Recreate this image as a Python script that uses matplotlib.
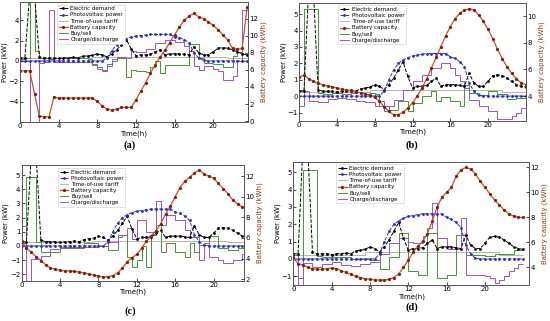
import numpy as np
import matplotlib.pyplot as plt

# time axis, half-hour steps
t = np.arange(0, 24.5, 0.5)

demand = [0.3, 0.3, 6.5, 6.5, 0.4, 0.3, 0.3, 0.3,
          0.25, 0.3, 0.3, 0.35, 0.3, 0.45, 0.5, 0.55,
          0.7, 0.6, 0.4, 0.7, 1.1, 1.6, 2.1, 1.2,
          0.5, 0.6, 0.6, 0.65, 0.9, 1.1, 0.6, 0.7,
          0.7, 0.7, 0.65, 0.6, 1.4, 0.8, 0.6, 0.6,
          0.9, 1.25, 1.3, 1.25, 1.1, 0.9, 0.7, 0.6,
          0.55]
pv = [0, 0, 0, 0, 0, 0, 0, 0,
      0, 0, 0, 0, 0, 0, 0, 0,
      0, 0, 0.3, 1.0, 1.6, 2.0, 2.2, 2.35,
      2.45, 2.5, 2.55, 2.6, 2.6, 2.6, 2.6, 2.6,
      2.4, 2.3, 2.1, 1.8, 0.8, 0.3, 0.05, 0,
      0, 0, 0, 0, 0, 0, 0, 0,
      0]
tariff = [0.25, 0.25, 0.25, 0.25, 0.25, 0.25, 0.25, 0.25,
          0.25, 0.25, 0.25, 0.25, 0.25, 0.25, 0.25, 0.38,
          0.38, 0.38, 0.38, 0.38, 0.38, 0.38, 0.38, 0.38,
          0.38, 0.38, 0.38, 0.38, 0.38, 0.38, 0.38, 0.38,
          0.38, 0.38, 0.38, 0.38, 0.38, 0.38, 0.38, 0.38,
          0.38, 0.38, 0.38, 0.25, 0.25, 0.25, 0.25, 0.25]

# (a)
bat_a = [5.9, 5.9, 5.9, 3.2, 0.6, 0.5, 0.5, 2.8,
         2.7, 2.7, 2.7, 2.7, 2.7, 2.7, 2.7, 2.7,
         2.3, 1.8, 1.4, 1.3, 1.4, 1.6, 1.6, 1.6,
         2.5, 3.5, 4.5, 5.6, 6.6, 7.5, 8.3, 9.2,
         10.1, 11.0, 11.8, 12.3, 12.6, 12.2, 12.0, 11.6,
         11.2, 10.7, 10.1, 9.5, 8.5, 8.4, 8.5, 13.3,
         13.3]
buy_a = [0.2, 0.3, 6.5, 1.0, 0.3, 0.3, 0.2, 0.3,
         0.3, 0.3, 0.3, 0.3, 0.3, 0.3, 0.2, -0.3,
         -0.6, -0.9, -0.3, 0.0, 0.3, 0.3, -1.6, -0.9,
         -1.0, -1.0, -1.1, -0.6, 0.0, -1.2, -0.4, -0.4,
         -0.4, -0.4, -0.4, 1.7, 1.7, 0.3, -0.2, -0.2,
         -0.3, -0.3, -0.6, -0.6, 0.5, 0.9, 0.0, 0.0]
chg_a = [0.0, 0.0, -6.5, -6.5, -0.2, -0.1, 5.0, -0.1,
         -0.1, -0.1, -0.1, -0.1, -0.1, -0.1, -0.1, -0.4,
         -0.8, -1.0, -0.5, 0.2, 0.4, 0.4, 0.3, 1.0,
         0.9, 0.9, 1.2, 1.2, 1.8, 1.8, 2.1, 2.1,
         1.9, 1.9, 1.5, 1.0, -0.5, -0.9, -0.5, -0.5,
         -0.8, -1.0, -1.9, -1.9, -1.5, 0.0, 5.0, 5.0]

# (b)
bat_b = [5.45, 5.55, 5.3, 5.1, 4.95, 4.85, 4.75, 4.7,
         4.6, 4.5, 4.45, 4.4, 4.3, 4.25, 4.15, 4.05,
         3.9, 3.6, 3.2, 2.85, 2.6, 2.6, 2.8, 3.1,
         3.5, 4.0, 4.6, 5.3, 6.1, 6.9, 7.7, 8.5,
         9.2, 9.8, 10.2, 10.45, 10.55, 10.45, 10.1, 9.6,
         9.0, 8.3, 7.5, 6.8, 6.2, 5.7, 5.3, 5.0,
         4.85]
buy_b = [0.35, 5.3, 5.3, 5.3, 0.2, 0.15, 0.15, 0.2,
         0.2, 0.15, 0.1, 0.2, 0.25, 0.2, 0.15, 0.2,
         0.1, -0.6, -0.6, -0.85, -0.85, -0.3, -0.3, -0.9,
         -0.4, -0.4, 0.0, 0.0, 0.3, -0.3, -0.05, -0.05,
         -0.3, -0.3, -0.6, 0.7, 0.2, 0.2, 0.05, 0.05,
         0.3, 0.3, 0.1, 0.1, -0.15, -0.15, -0.1, -0.1]
chg_b = [-0.6, 0.3, -0.3, -0.3, -0.35, -0.35, -0.2, -0.2,
         -0.1, -0.1, -0.2, -0.2, -0.3, -0.3, -0.35, -0.35,
         -0.6, -0.3, -0.9, -0.6, -0.25, -0.25, 0.4, 0.4,
         0.9, 0.9, 1.3, 1.3, 1.7, 1.7, 2.0, 2.0,
         1.7, 1.3, 0.9, 0.5, -0.25, -0.25, -0.6, -0.6,
         -0.9, -0.9, -1.4, -1.4, -1.4, -1.2, -1.0, -0.75]

# (c)
bat_c = [5.7, 5.0, 4.6, 4.2, 3.8, 3.4, 3.1, 2.95,
         2.85, 2.8, 2.8, 2.75, 2.7, 2.6, 2.5, 2.4,
         2.3, 2.2, 2.25, 2.35, 2.6, 3.1, 3.7, 4.1,
         4.4, 5.0, 5.7, 6.2, 6.7, 7.4, 8.3, 9.1,
         10.0, 10.9, 11.5, 11.9, 12.3, 12.6, 12.2, 12.0,
         11.8, 11.3, 10.8, 10.3, 9.7, 9.3, 9.0, 8.8,
         8.7]
buy_c = [0.2, 4.85, 4.85, 0.3, -0.4, -0.4, -0.4, -0.4,
         -0.15, -0.15, -0.15, -0.15, -0.15, 0.2, 0.2, 0.2,
         0.0, 0.0, -0.25, -0.25, 0.8, 0.8, -0.75, -1.45,
         -1.0, 0.0, -1.45, 0.8, 1.5, -0.4, 0.2, 0.2,
         -0.4, -0.4, -0.75, 0.2, -0.4, 0.1, 0.1, 0.7,
         0.7, -0.15, -0.15, -0.25, -0.25, -0.15, -0.15, -0.15]
chg_c = [1.4, -2.6, -0.9, -0.9, -0.7, -0.7, -0.2, -0.2,
         -0.1, -0.1, -0.1, -0.1, -0.05, -0.05, -0.05, -0.05,
         0.0, 0.0, 0.3, 0.3, 0.6, 0.8, 1.3, 0.5,
         1.8, 1.8, 1.0, 1.0, 3.2, 1.5, 2.2, 2.2,
         1.8, 1.8, 1.1, 0.65, 0.65, -1.0, 0.2, -0.75,
         -0.75, -1.0, -1.2, -1.2, -1.0, -1.0, -0.6, -0.6]

# (d)
bat_d = [4.8, 4.3, 4.2, 4.0, 3.9, 3.85, 3.85, 3.9,
         3.95, 3.9, 3.75, 3.6, 3.45, 3.3, 3.2, 3.1,
         3.05, 3.0, 3.0, 3.0, 3.05, 3.2, 3.5, 4.0,
         4.6, 5.2, 5.7, 6.1, 6.7, 7.7, 8.8, 9.6,
         10.0, 10.4, 11.3, 11.8, 12.0, 11.85, 11.5, 10.9,
         10.4, 9.9, 9.4, 9.0, 8.6, 8.3, 8.1, 8.0,
         8.0]
buy_d = [-1.0, -1.1, 5.1, 5.1, 5.1, 0.15, 0.1, 0.1,
         0.1, 0.1, 0.1, 0.1, 0.0, 0.0, 0.0, 0.0,
         -0.05, -0.05, -0.6, -0.6, 0.1, 0.1, 1.5, 1.5,
         -0.7, -0.7, -0.95, -0.95, 1.5, 1.5, -1.1, -1.1,
         -0.9, -0.9, 1.4, 1.4, 0.2, 0.2, 0.25, 0.25,
         0.15, 0.15, 0.3, 0.3, 0.3, 0.3, 0.5, 0.5]
chg_d = [0.2, -1.6, -0.25, -0.25, -0.45, -0.45, -0.3, -0.3,
         -0.2, -0.2, -0.35, -0.35, -0.4, -0.4, -0.3, -0.3,
         -0.2, -0.2, 0.3, 0.3, 0.9, 0.9, 1.2, 1.2,
         1.0, 0.9, 0.9, 1.3, 1.8, 3.2, 1.2, 1.2,
         0.6, 0.6, 0.6, 2.35, -0.9, -0.9, -0.9, -0.9,
         -1.0, -1.1, -1.4, -1.2, -1.0, -0.7, -0.5, -0.3]

labels = ["Electric demand", "Photovoltaic power", "Time-of-use tariff",
          "Battery capacity", "Buy/sell", "Charge/discharge"]

c_dem = "black"
c_pv = "#2b2bd0"
c_tar = "#b8b4a8"
c_bat = "#c8541c"
c_buy = "#3f9a2a"
c_chg = "#9b50e0"

fig = plt.figure(figsize=(5.5, 3.21), dpi=100)


def panel(rect, bat, buy, chg, xmax, ylim_l, yticks_l, ylim_r, yticks_r, leg_x):
    ax = fig.add_axes(rect)
    ax2 = ax.twinx()
    h1, = ax.plot(t, demand, ls="--", color=c_dem, lw=0.7, marker="o", ms=1.0)
    h2, = ax.plot(t, pv, ls="--", color=c_pv, lw=0.7, marker="o", ms=1.0)
    h3 = ax.stairs(tariff, t, color=c_tar, lw=0.7, baseline=None)
    h5 = ax.stairs(buy, t, color=c_buy, lw=0.7, baseline=None)
    h6 = ax.stairs(chg, t, color=c_chg, lw=0.7, baseline=None)
    h4, = ax2.plot(t, bat, color=c_bat, lw=0.9, marker="o", ms=1.3,
                   mfc="#8a1a10", mec="#8a1a10")
    ax.set_xlim(0, xmax)
    ax.set_ylim(*ylim_l)
    ax.set_yticks(yticks_l)
    ax.set_xticks([0, 4, 8, 12, 16, 20])
    ax2.set_ylim(*ylim_r)
    ax2.set_yticks(yticks_r)
    for a in (ax, ax2):
        a.tick_params(labelsize=5, length=2, width=0.5, pad=1, direction="in")
        for s in a.spines.values():
            s.set_linewidth(0.6)
            s.set_color("#555555")
    ax.set_xlabel("Time(h)", fontsize=5, labelpad=0.5)
    ax.set_ylabel("Power (kW)", fontsize=5, labelpad=0.5)
    ax2.set_ylabel("Battery capacity (kWh)", fontsize=5, labelpad=1.5,
                   color="#8a3a12")
    from matplotlib.lines import Line2D
    handles = [h1, h2, Line2D([], [], color=c_tar, lw=0.7), h4,
               Line2D([], [], color=c_buy, lw=0.7),
               Line2D([], [], color=c_chg, lw=0.7)]
    leg = ax2.legend(handles, labels, loc="upper left",
                     bbox_to_anchor=(leg_x, 1.0), fontsize=4,
                     handlelength=1.6, handletextpad=0.5, borderpad=0.3,
                     labelspacing=0.2, fancybox=False, framealpha=1,
                     edgecolor="#cccccc")
    leg.get_frame().set_linewidth(0.4)
    return ax


panel([0.0364, 0.620, 0.4145, 0.374], bat_a, buy_a, chg_a, 23.6,
      (-6.0, 5.8), [-4, -2, 0, 2, 4], (-0.1, 13.95), [0, 2, 4, 6, 8, 10, 12], 0.15)
panel([0.544, 0.624, 0.412, 0.3676], bat_b, buy_b, chg_b, 24.0,
      (-1.5, 5.7), [-1, 0, 1, 2, 3, 4, 5], (2.15, 11.0), [4, 6, 8, 10], 0.16)
panel([0.0394, 0.1255, 0.4047, 0.360], bat_c, buy_c, chg_c, 23.2,
      (-2.45, 5.7), [-2, -1, 0, 1, 2, 3, 4, 5], (1.85, 13.07), [2, 4, 6, 8, 10, 12], 0.15)
panel([0.5333, 0.1121, 0.4285, 0.3841], bat_d, buy_d, chg_d, 24.6,
      (-1.5, 5.6), [-1, 0, 1, 2, 3, 4, 5], (2.6, 12.45), [4, 6, 8, 10, 12], 0.17)

for txt, x, y in [("(a)", 130, 145), ("(b)", 412, 145), ("(c)", 130, 311), ("(d)", 412, 307)]:
    fig.text(x / 550, 1 - y / 321, txt, ha="center", va="center",
             fontsize=7.5, fontweight="bold", family="Liberation Serif")

fig.savefig("out.png", dpi=100)
